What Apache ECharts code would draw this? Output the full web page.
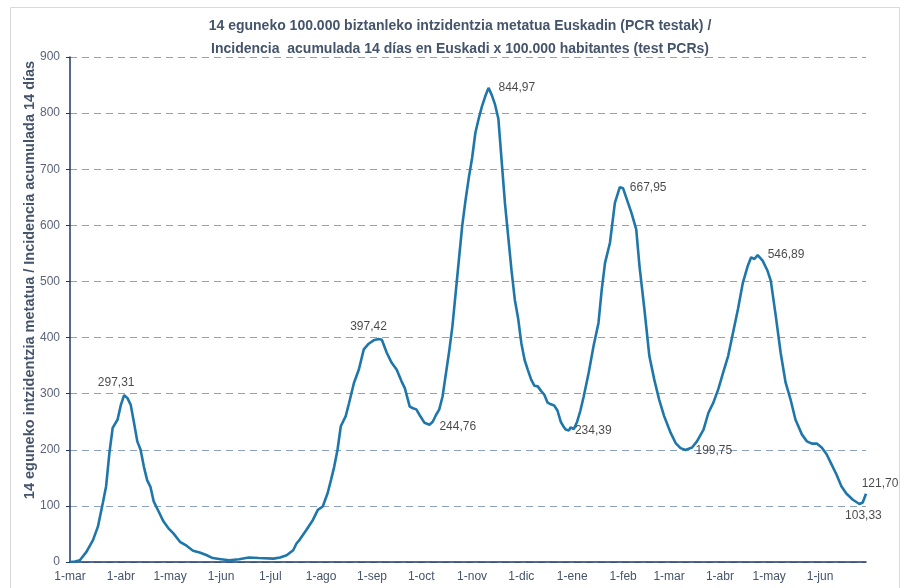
<!DOCTYPE html>
<html>
<head>
<meta charset="utf-8">
<script src="https://cdn.jsdelivr.net/npm/echarts@6/dist/echarts.min.js"></script>
<style>
  html, body { margin: 0; padding: 0; background: #fff; }
  #chart { width: 906px; height: 588px; }
</style>
</head>
<body>
<div id="chart"></div>
<script>
// days counted from 1-mar-2020
const monthNames = ['ene', 'feb', 'mar', 'abr', 'may', 'jun', 'jul', 'ago', 'sep', 'oct', 'nov', 'dic'];
const startDate = Date.UTC(2020, 2, 1);
const dayMs = 86400000;
const lastDay = 485;

const days = [
  0, 3, 6, 10, 14, 17, 20, 22, 24, 26, 29, 31, 33, 35, 37, 39, 41, 43, 45, 47, 49, 51, 54, 57, 60, 63, 67, 71, 75, 79,
  83, 87, 92, 97, 103, 109, 115, 124, 128, 132, 136, 138, 140, 144, 148, 151, 154, 157, 159, 161, 163, 165, 168, 170,
  173, 176, 179, 182, 185, 188, 190, 193, 196, 199, 202, 204, 207, 209, 211, 213, 216, 219, 221, 223, 225, 227, 229,
  231, 233, 235, 237, 239, 241, 243, 245, 247, 249, 251, 253, 255, 257, 259, 261, 263, 265, 267, 269, 271, 273, 275,
  277, 279, 281, 283, 285, 287, 289, 291, 293, 295, 297, 299, 301, 302, 304, 305, 307, 309, 311, 313, 316, 319, 322,
  324, 326, 329, 332, 335, 337, 340, 342, 345, 347, 350, 353, 356, 359, 362, 366, 369, 372, 375, 379, 382, 386, 389,
  392, 395, 398, 401, 404, 407, 410, 413, 415, 417, 419, 422, 425, 427, 430, 433, 436, 439, 442, 446, 449, 452, 455,
  458, 461, 464, 467, 470, 473, 477, 481, 483, 485
];
const incidence = [
  0, 1, 3, 18, 39, 63, 105, 135, 194, 239, 254, 280, 297.31, 292, 280, 248, 215, 200, 170, 146, 134, 108, 90, 72, 60, 51, 36, 29, 20, 17,
  12.5, 7, 5, 3, 5, 8, 7, 6, 8, 12, 21, 33, 40, 57, 75, 93, 99, 123, 146, 170, 200, 242, 260, 283,
  319, 343, 379, 389, 395, 397.42, 396, 373, 355, 343, 322, 310, 277, 274, 272, 262, 248, 244.76, 250, 262, 272, 295, 335,
  375, 420, 480, 540, 600, 645, 685, 720, 765, 790, 812, 830, 844.97, 832, 815, 790, 715, 640, 580, 520, 468, 435, 390,
  360, 342, 325, 314, 313, 305, 298, 284, 281, 279, 270, 250, 240, 236, 234.39, 240, 237, 250, 270, 295, 337, 385, 426,
  486, 533, 569, 640, 667.95, 666, 640, 623, 593, 527, 450, 367, 325, 289, 260, 230, 212, 203, 199.75, 204, 215, 236, 266,
  284, 308, 338, 367, 409, 451, 498, 528, 543, 540, 546.89, 537, 519, 501, 439, 373, 320, 290, 254, 227, 215, 211, 211,
  204, 192, 174, 156, 135, 122, 111, 103.33, 106, 121.70
];

// annotated extremes
const labelDays = [33, 188, 219, 255, 304, 335, 375, 419, 481, 485];
const labelValues = [297.31, 397.42, 244.76, 844.97, 234.39, 667.95, 199.75, 546.89, 103.33, 121.70];

const yTicks = [0, 100, 200, 300, 400, 500, 600, 700, 800, 900];

const labelPlacement = [
  { position: 'top', offset: [-8, 0] },
  { position: 'top', offset: [-10, 0] },
  { position: 'right', offset: [4, 2] },
  { position: 'right', offset: [4, 0] },
  { position: 'right', offset: [0, 0] },
  { position: 'right', offset: [4, 0] },
  { position: 'right', offset: [4, 1] },
  { position: 'right', offset: [4, 0] },
  { position: 'bottom', offset: [4, 0] },
  { position: 'top', offset: [14, 2] }
];

const fmt = v => v.toFixed(2).replace('.', ',');
const toTime = d => startDate + d * dayMs;

const lineData = days.map((d, i) => [toTime(d), incidence[i]]);
const labelData = labelDays.map((d, i) => ({
  value: [toTime(d), labelValues[i]],
  label: Object.assign({ show: true, formatter: fmt(labelValues[i]) }, labelPlacement[i])
}));

const fontFamily = "'Liberation Sans Narrow', 'Liberation Sans', sans-serif";
const chart = echarts.init(document.getElementById('chart'));
chart.setOption({
  backgroundColor: '#fff',
  useUTC: true,
  animation: false,
  title: {
    text: '14 eguneko 100.000 biztanleko intzidentzia metatua Euskadin (PCR testak) /\nIncidencia  acumulada 14 días en Euskadi x 100.000 habitantes (test PCRs)',
    left: 455,
    top: 10,
    textAlign: 'center',
    textStyle: {
      fontFamily: fontFamily,
      fontSize: 14,
      fontWeight: 'bold',
      color: '#44546A',
      lineHeight: 23
    }
  },
  graphic: [
    {
      type: 'rect',
      shape: { x: 10.5, y: 7.5, width: 889, height: 600 },
      style: { fill: 'none', stroke: '#D9D9D9', lineWidth: 1 },
      silent: true
    },
    {
      type: 'text',
      x: 30,
      y: 280,
      rotation: Math.PI / 2,
      style: {
        text: '14 eguneko intzidentzia metatua / Incidencia acumulada 14 días',
        fontFamily: fontFamily,
        fontSize: 14.5,
        fontWeight: 'bold',
        fill: '#44546A',
        align: 'center',
        verticalAlign: 'middle'
      }
    }
  ],
  grid: { left: 70, right: 40, top: 57, bottom: 26 },
  xAxis: {
    type: 'time',
    min: toTime(0),
    max: toTime(lastDay),
    minInterval: 28 * dayMs,
    maxInterval: 31 * dayMs,
    axisLine: { lineStyle: { color: '#1F3864', width: 1.5 } },
    axisTick: { show: false },
    splitLine: { show: false },
    axisLabel: {
      color: '#44546A',
      fontFamily: fontFamily,
      fontSize: 12,
      margin: 9,
      showMinLabel: true,
      showMaxLabel: false,
      hideOverlap: false,
      formatter: function (val) {
        const d = new Date(val);
        return d.getUTCDate() + '-' + monthNames[d.getUTCMonth()];
      }
    }
  },
  yAxis: {
    type: 'value',
    min: yTicks[0],
    max: yTicks[yTicks.length - 1],
    interval: 100,
    axisLine: { show: true, lineStyle: { color: '#1F3864', width: 1.5 } },
    axisTick: { show: true, length: 4, lineStyle: { color: '#1F3864' } },
    splitLine: { lineStyle: { color: '#8DA0C2', type: [7, 5], width: 1 } },
    axisLabel: {
      color: '#5A6478',
      fontFamily: fontFamily,
      fontSize: 12,
      margin: 10
    }
  },
  series: [
    {
      type: 'line',
      data: lineData,
      showSymbol: false,
      smooth: false,
      lineStyle: { color: '#1F77A9', width: 2.6 },
      z: 3
    },
    {
      type: 'scatter',
      data: labelData,
      symbolSize: 0,
      label: {
        color: '#1A1A1A',
        fontFamily: fontFamily,
        fontSize: 12,
        distance: 6
      },
      z: 4
    }
  ]
});
</script>
</body>
</html>
